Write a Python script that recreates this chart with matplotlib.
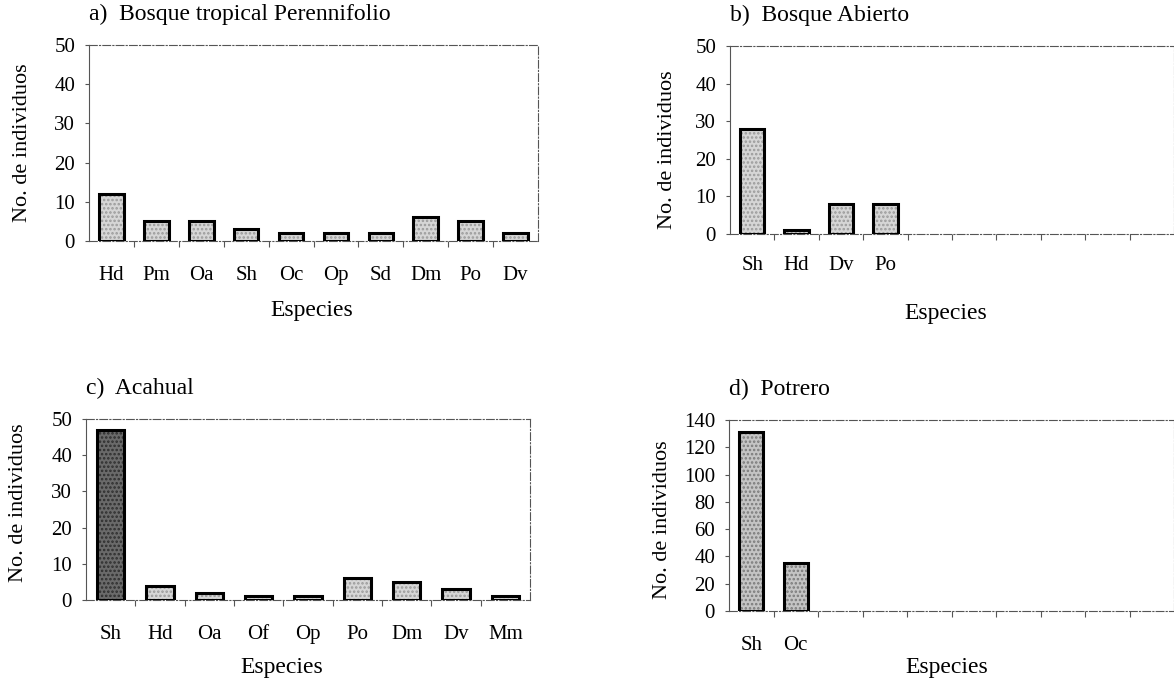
import matplotlib
matplotlib.use("Agg")
import matplotlib.pyplot as plt
from matplotlib.ticker import FixedLocator

plt.rcParams["font.family"] = ["Liberation Serif", "DejaVu Serif"]
plt.rcParams["hatch.linewidth"] = 1.2

# ---- data ----
species_a = ["Hd", "Pm", "Oa", "Sh", "Oc", "Op", "Sd", "Dm", "Po", "Dv"]
counts_a = [12, 5, 5, 3, 2, 2, 2, 6, 5, 2]

species_b = ["Sh", "Hd", "Dv", "Po"]
counts_b = [28, 1, 8, 8]

species_c = ["Sh", "Hd", "Oa", "Of", "Op", "Po", "Dm", "Dv", "Mm"]
counts_c = [47, 4, 2, 1, 1, 6, 5, 3, 1]

species_d = ["Sh", "Oc"]
counts_d = [131, 35]

titles = ["a)  Bosque tropical Perennifolio", "b)  Bosque Abierto",
          "c)  Acahual", "d)  Potrero"]

W, H = 1174, 683
fig = plt.figure(figsize=(W / 100, H / 100), dpi=100)


def px_axes(left, top, right, bottom):
    return fig.add_axes([left / W, 1 - bottom / H, (right - left) / W, (bottom - top) / H])


def panel(ax, names, vals, nslots, ymax, ystep, title, fills,
          xlab_xy, ylab_xy, tpad):
    x = list(range(len(names)))
    # stippled fill, then the heavy outline on top
    ax.bar(x, vals, width=0.55, color=[f[0] for f in fills], hatch="....",
           edgecolor=[f[1] for f in fills], linewidth=0, zorder=2)
    ax.bar(x, vals, width=0.55, fill=False, edgecolor="black",
           linewidth=2.2, zorder=3)
    ax.set_xlim(-0.5, nslots - 0.5)
    ax.set_ylim(0, ymax)
    ax.set_yticks(range(0, ymax + 1, ystep))
    ax.set_xticks(x)
    ax.set_xticklabels(names)
    ax.xaxis.set_minor_locator(FixedLocator([i + 0.5 for i in range(nslots - 1)]))
    ax.tick_params(axis="x", which="major", length=0, pad=tpad, labelsize=15)
    ax.tick_params(axis="x", which="minor", length=4, width=0.8, color="#555555")
    ax.tick_params(axis="y", length=3, width=0.8, pad=7, labelsize=15, color="#555555")
    for side, sp in ax.spines.items():
        sp.set_color("#555555")
        sp.set_linewidth(0.8)
        sp.set_linestyle((0, (7, 2, 1, 2)) if side != "left" else (0, (10, 1, 1, 1)))
    ax.set_xlabel("Especies", fontsize=17)
    ax.xaxis.set_label_coords(*xlab_xy)
    ax.set_ylabel("No. de individuos", fontsize=16)
    ax.yaxis.set_label_coords(*ylab_xy)
    ax.text(0.0, 1.0 + 31 / ax.bbox.height, title, transform=ax.transAxes,
            fontsize=17, ha="left", va="center")


light = ("#d6d6d6", "#9a9a9a")
dark = ("#6a6a6a", "#2e2e2e")
mid = ("#c4c4c4", "#7a7a7a")

ax_a = px_axes(89, 45, 538, 241)
panel(ax_a, species_a, counts_a, 10, 50, 10, titles[0],
      [light] * len(species_a), (0.497, -0.30), (-0.127, 0.5), 18)

ax_b = px_axes(730, 46, 1174, 234)
panel(ax_b, species_b, counts_b, 10, 50, 10, titles[1],
      [light] * len(species_b), (0.485, -0.367), (-0.12, 0.45), 16)

ax_c = px_axes(86, 419, 530, 600)
panel(ax_c, species_c, counts_c, 9, 50, 10, titles[2],
      [dark] + [light] * (len(species_c) - 1), (0.44, -0.315), (-0.131, 0.54), 18)

ax_d = px_axes(729, 420, 1174, 611)
panel(ax_d, species_d, counts_d, 10, 140, 20, titles[3],
      [mid] * len(species_d), (0.49, -0.24), (-0.128, 0.48), 18)

fig.savefig("out.png", dpi=100, facecolor="white")
